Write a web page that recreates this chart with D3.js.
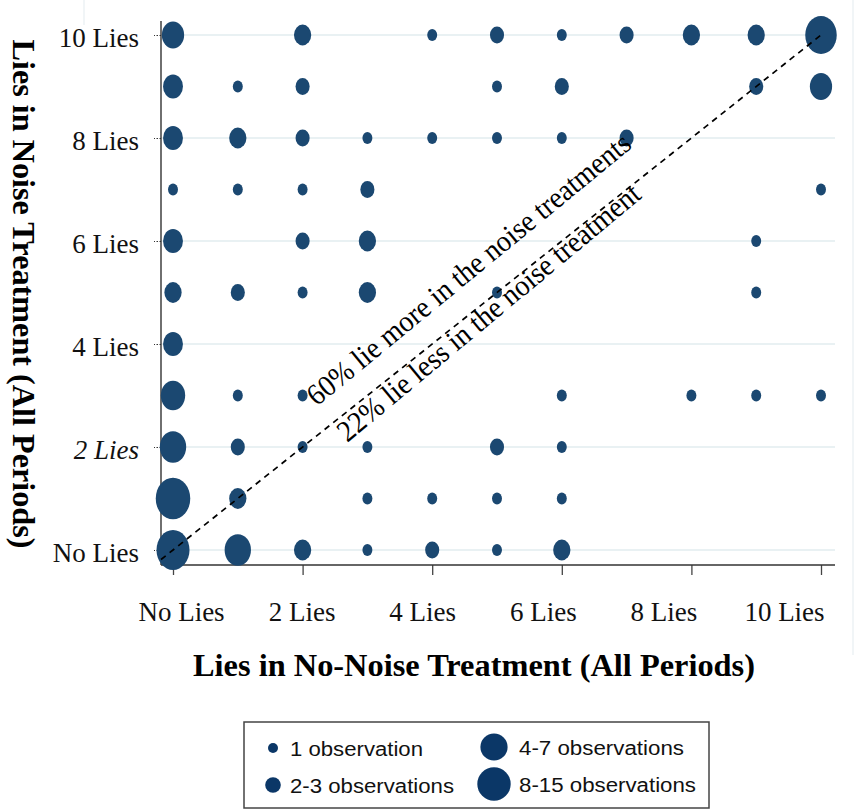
<!DOCTYPE html>
<html>
<head>
<meta charset="utf-8">
<script src="https://cdn.jsdelivr.net/npm/d3@7"></script>
<style>
  body { margin: 0; background: #fff; }
  svg { display: block; }
</style>
</head>
<body>
<div class="chart"></div>
<script>
// Données : une case par combinaison (mensonges sans bruit, mensonges avec bruit)
const noNoiseLies = [0,2,4,5,6,7,8,9,10, 0,1,2,5,6,9,10, 0,1,2,3,4,5,6,7, 0,1,2,3,10, 0,2,3,9, 0,1,2,3,5,9, 0, 0,1,2,6,8,9,10, 0,1,2,3,5,6, 0,1,3,4,5,6, 0,1,2,3,4,5,6]
const noiseLies   = [10,10,10,10,10,10,10,10,10, 9,9,9,9,9,9,9, 8,8,8,8,8,8,8,8, 7,7,7,7,7, 6,6,6,6, 5,5,5,5,5,5, 4, 3,3,3,3,3,3,3, 2,2,2,2,2,2, 1,1,1,1,1,1, 0,0,0,0,0,0,0]
const observations = [5,3,1,2,1,2,3,3,10, 4,1,2,1,2,2,5, 4,3,2,1,1,1,1,2, 1,1,1,2,1, 4,2,3,1, 3,2,1,3,1,1, 4, 6,1,1,1,1,1,1, 7,2,1,1,2,1, 12,3,1,1,1,1, 11,7,3,1,2,1,3]

const tickValues = [0, 2, 4, 6, 8, 10]
const xTickLabels = ['No Lies', '2 Lies', '4 Lies', '6 Lies', '8 Lies', '10 Lies']
const yTickLabels = ['No Lies', '2 Lies', '4 Lies', '6 Lies', '8 Lies', '10 Lies']

const legendLabels = ['1 observation', '2-3 observations', '4-7 observations', '8-15 observations']
const legendRadius = [5, 7.8, 13.6, 16.7]

const annotations = ['60% lie more in the noise treatments', '22% lie less in the noise treatment']

const width = 854
const height = 811
const serif = '"Liberation Serif", "Times New Roman", Times, serif'
const sans = '"Liberation Sans", Arial, Helvetica, sans-serif'
const dotColor = '#1b4871'
const legendColor = '#0b3767'

const svg = d3.create('svg')
    .attr('width', width)
    .attr('height', height)
    .style('background-color', '#fff')

// Echelles
const x = d3.scaleLinear().domain([0, 10]).range([173, 821])
const y = d3.scaleLinear().domain([0, 10]).range([550, 35])
const r = d3.scaleSqrt().domain([0, 1]).range([0, 6])
// les étiquettes de l'axe X sont un peu resserrées par rapport aux graduations
const xLabelPos = d3.scaleLinear().domain([0, 10]).range([181, 784])

const plotLeft = 161, plotRight = 835, plotTop = 21, plotBottom = 565

// petits traits très clairs autour du graphique (bord de l'image d'origine)
svg.append('line').attr('x1', 853).attr('x2', 853).attr('y1', 0).attr('y2', 655)
    .attr('stroke', '#edf2f4').attr('stroke-width', 1.5)
svg.append('line').attr('x1', 84).attr('x2', 84).attr('y1', 0).attr('y2', 25)
    .attr('stroke', '#edf2f4').attr('stroke-width', 1.5)

// grille horizontale
svg.append('g')
    .selectAll('line')
    .data(tickValues)
    .join('line')
    .attr('x1', plotLeft)
    .attr('x2', plotRight)
    .attr('y1', d => y(d))
    .attr('y2', d => y(d))
    .attr('stroke', '#e9f1f3')
    .attr('stroke-width', 2.2)

// axe Y
const yAxis = d3.axisLeft(y)
    .tickValues(tickValues)
    .tickFormat((d, i) => yTickLabels[i])
    .tickSize(7)
    .tickPadding(15)

const gy = svg.append('g')
    .attr('transform', `translate(${plotLeft},0)`)
    .call(yAxis)
gy.select('.domain').remove()
gy.selectAll('.tick line')
    .attr('stroke', '#333')
    .attr('stroke-dasharray', '1.5,1.5')
gy.selectAll('.tick text')
    .attr('dy', 11)
    .style('font-family', serif)
    .style('font-size', '27px')
    .style('font-style', (d, i) => i === 1 ? 'italic' : 'normal')
    .attr('fill', '#111')

// axe X : graduations
const gx = svg.append('g')
    .attr('transform', `translate(0,${plotBottom})`)
    .call(d3.axisBottom(x).tickValues(tickValues).tickFormat('').tickSize(10))
gx.select('.domain').remove()
gx.selectAll('.tick line').attr('stroke', '#444').attr('stroke-width', 1.3)

// axe X : étiquettes
const gxl = svg.append('g')
    .attr('transform', `translate(0,${plotBottom})`)
    .call(d3.axisBottom(xLabelPos).tickValues(tickValues).tickFormat((d, i) => xTickLabels[i]).tickSize(0))
gxl.select('.domain').remove()
gxl.selectAll('.tick text')
    .attr('y', 56)
    .attr('dy', 0)
    .style('font-family', serif)
    .style('font-size', '27px')
    .attr('fill', '#111')

// lignes des axes
svg.append('line').attr('x1', plotLeft).attr('x2', plotLeft).attr('y1', plotTop).attr('y2', plotBottom)
    .attr('stroke', '#333').attr('stroke-width', 1.4)
svg.append('line').attr('x1', plotLeft).attr('x2', plotRight).attr('y1', plotBottom).attr('y2', plotBottom)
    .attr('stroke', '#333').attr('stroke-width', 1.4)

// points (taille selon le nombre d'observations)
const points = noNoiseLies.map((d, i) => ({ nn: d, n: noiseLies[i], obs: observations[i] }))

svg.append('g')
    .selectAll('ellipse')
    .data(points)
    .join('ellipse')
    .attr('cx', d => x(d.nn))
    .attr('cy', d => y(d.n))
    .attr('rx', d => r(d.obs) * 0.83)
    .attr('ry', d => r(d.obs))
    .attr('fill', dotColor)

// diagonale en pointillés (y = x)
const xStart = x.invert(plotLeft)
svg.append('line')
    .attr('x1', x(xStart))
    .attr('y1', y(xStart))
    .attr('x2', x(10))
    .attr('y2', y(10))
    .attr('stroke', '#000')
    .attr('stroke-width', 1.7)
    .attr('stroke-dasharray', '6,5')

// textes le long de la diagonale
const annotStart = [[2.22, 2.78], [2.69, 2.08]]
const annotEnd = [[7.10, 7.83], [7.25, 6.85]]

annotations.forEach((txt, i) => {
    const x0 = x(annotStart[i][0]), y0 = y(annotStart[i][1])
    const x1 = x(annotEnd[i][0]), y1 = y(annotEnd[i][1])
    const angle = Math.atan2(y1 - y0, x1 - x0) * 180 / Math.PI
    const len = Math.hypot(x1 - x0, y1 - y0)
    svg.append('text')
        .attr('transform', `translate(${x0},${y0}) rotate(${angle})`)
        .attr('textLength', len)
        .attr('lengthAdjust', 'spacingAndGlyphs')
        .style('font-family', serif)
        .style('font-size', '30px')
        .attr('fill', '#000')
        .text(txt)
})

// titres des axes
svg.append('text')
    .attr('x', 474)
    .attr('y', 676)
    .attr('text-anchor', 'middle')
    .attr('textLength', 562)
    .attr('lengthAdjust', 'spacingAndGlyphs')
    .style('font-family', serif)
    .style('font-size', '32px')
    .style('font-weight', 'bold')
    .text('Lies in No-Noise Treatment (All Periods)')

svg.append('text')
    .attr('transform', 'translate(13,294) rotate(90)')
    .attr('text-anchor', 'middle')
    .attr('textLength', 509)
    .attr('lengthAdjust', 'spacingAndGlyphs')
    .style('font-family', serif)
    .style('font-size', '32px')
    .style('font-weight', 'bold')
    .text('Lies in Noise Treatment (All Periods)')

// légende
const legend = svg.append('g')
legend.append('rect')
    .attr('x', 244).attr('y', 722)
    .attr('width', 465).attr('height', 86)
    .attr('fill', '#fff')
    .attr('stroke', '#444')
    .attr('stroke-width', 1.5)

const legendMarkX = [273, 273, 494, 494]
const legendMarkY = [748, 785, 747, 784]
const legendTextX = [290, 290, 519, 519]
const legendTextLen = [133, 164, 165, 177]

legendLabels.forEach((lab, i) => {
    legend.append('circle')
        .attr('cx', legendMarkX[i])
        .attr('cy', legendMarkY[i])
        .attr('r', legendRadius[i])
        .attr('fill', legendColor)
    legend.append('text')
        .attr('x', legendTextX[i])
        .attr('y', legendMarkY[i] + 8)
        .attr('textLength', legendTextLen[i])
        .attr('lengthAdjust', 'spacingAndGlyphs')
        .style('font-family', sans)
        .style('font-size', '20px')
        .attr('fill', '#111')
        .text(lab)
})

document.querySelector('.chart').appendChild(svg.node())
</script>
</body>
</html>
